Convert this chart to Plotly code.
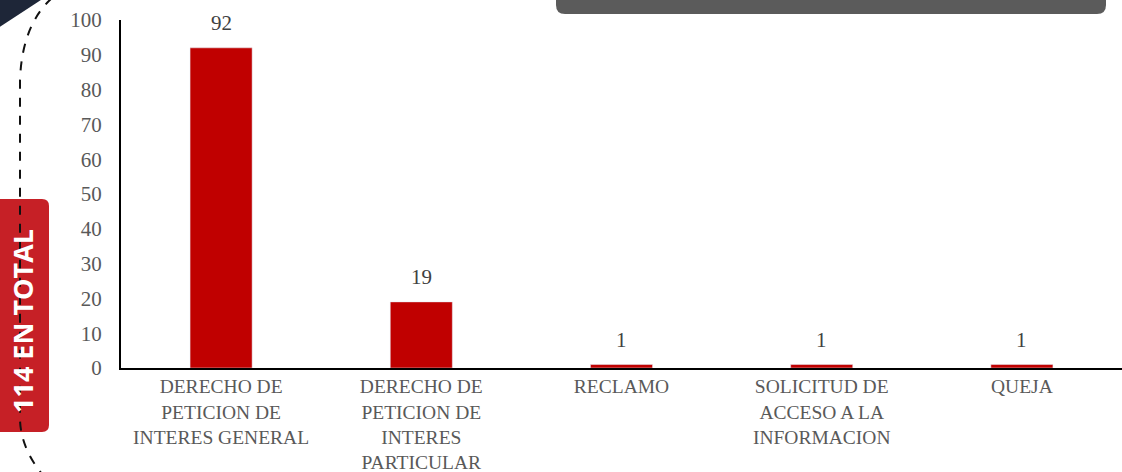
import plotly.graph_objects as go

categories = ["DERECHO DE<br>PETICION DE<br>INTERES GENERAL",
              "DERECHO DE<br>PETICION DE<br>INTERES<br>PARTICULAR",
              "RECLAMO",
              "SOLICITUD DE<br>ACCESO A LA<br>INFORMACION",
              "QUEJA"]
values = [92, 19, 1, 1, 1]
y_ticks = [0, 10, 20, 30, 40, 50, 60, 70, 80, 90, 100]
total_label = "114 EN TOTAL"

W, H = 1122, 472
L, R, T, B = 121, 0, 20, 104
pw, ph = W - L - R, H - T - B

def px(x):
    return (x - L) / pw

def py(y):
    return (H - B - y) / ph

SERIF = "Liberation Serif"

fig = go.Figure()
fig.add_trace(go.Bar(
    x=categories, y=values, marker_color="#C00000",
    cliponaxis=False, hoverinfo="skip",
))

annotations = []
for c, v in zip(categories, values):
    annotations.append(dict(x=c, y=v, xref="x", yref="y", text=str(v),
                            showarrow=False, yanchor="middle", yshift=25,
                            font=dict(family=SERIF, size=21, color="#404040")))

shapes = []
# dark triangle top-left
shapes.append(dict(type="path", xref="paper", yref="paper",
                   path=f"M {px(-2)},{py(-2)} L {px(44)},{py(-2)} L {px(-2)},{py(28)} Z",
                   fillcolor="#1E2638", line=dict(width=0), layer="above"))
# gray rounded banner at top
x0, x1, y0, y1, r = 556, 1106, -10, 14, 9
path = (f"M {px(x0)},{py(y0)} L {px(x1)},{py(y0)} L {px(x1)},{py(y1-r)} "
        f"Q {px(x1)},{py(y1)} {px(x1-r)},{py(y1)} L {px(x0+r)},{py(y1)} "
        f"Q {px(x0)},{py(y1)} {px(x0)},{py(y1-r)} Z")
shapes.append(dict(type="path", xref="paper", yref="paper", path=path,
                   fillcolor="#5B5B5B", line=dict(width=0), layer="above"))
# red rounded box
bx0, bx1, by0, by1, br = -10, 49, 199, 432, 7
path = (f"M {px(bx0)},{py(by0)} L {px(bx1-br)},{py(by0)} Q {px(bx1)},{py(by0)} {px(bx1)},{py(by0+br)} "
        f"L {px(bx1)},{py(by1-br)} Q {px(bx1)},{py(by1)} {px(bx1-br)},{py(by1)} L {px(bx0)},{py(by1)} Z")
shapes.append(dict(type="path", xref="paper", yref="paper", path=path,
                   fillcolor="#C62026", line=dict(width=0), layer="above"))
# dashed arc
path = (f"M {px(52)},{py(-2)} Q {px(22)},{py(25)} {px(20)},{py(80)} "
        f"L {px(20)},{py(420)} Q {px(21)},{py(448)} {px(42)},{py(474)}")
shapes.append(dict(type="path", xref="paper", yref="paper", path=path,
                   line=dict(color="#111111", width=2, dash="dash"), layer="above"))

annotations.append(dict(text=f"<b>{total_label}</b>", xref="paper", yref="paper",
                        x=px(22), y=py(321), xanchor="center", yanchor="middle",
                        textangle=-90, showarrow=False,
                        font=dict(family="Open Sans", size=27, color="white")))

fig.update_layout(
    width=W, height=H,
    margin=dict(l=L, r=R, t=T, b=B),
    paper_bgcolor="white", plot_bgcolor="white",
    showlegend=False, bargap=0.69,
    shapes=shapes,
    annotations=annotations,
    xaxis=dict(showline=True, linecolor="black", linewidth=2, showgrid=False,
               ticks="", tickfont=dict(family=SERIF, size=19.5, color="#595959"),
               ticklabelstandoff=0, automargin=False),
    yaxis=dict(range=[0, 100], tickvals=y_ticks, showline=True, linecolor="black",
               linewidth=2, showgrid=False, zeroline=False, ticks="",
               tickfont=dict(family=SERIF, size=21, color="#595959"),
               ticklabelstandoff=13, automargin=False),
)

fig.write_html("out.html", config={"displayModeBar": False},
               post_script="document.body.style.margin='0px';")
